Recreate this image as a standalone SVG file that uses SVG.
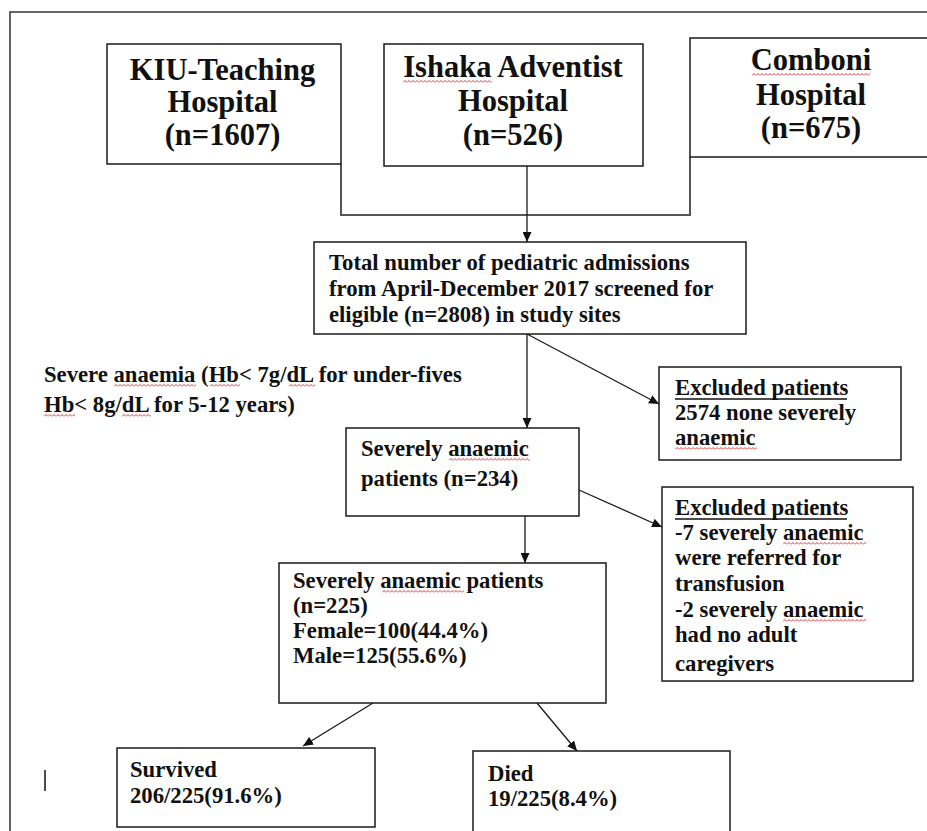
<svg xmlns="http://www.w3.org/2000/svg" width="927" height="831" viewBox="0 0 927 831">
<style>
.box{fill:#fff;stroke:#1a1a1a;stroke-width:1.5}
.t{font-family:"Liberation Serif","Times New Roman",serif;font-weight:bold;fill:#111;font-size:22.7px}
.h{font-size:30.5px;text-anchor:middle}
.c{fill:none;stroke:#1a1a1a;stroke-width:1.3}
.sq{fill:url(#sq)}
</style>
<defs>
<marker id="ah" markerUnits="userSpaceOnUse" markerWidth="11" markerHeight="9" refX="10" refY="4.5" orient="auto">
<path d="M0,0 L10,4.5 L0,9 z" fill="#111"/>
</marker>
<pattern id="sq" width="4" height="3" patternUnits="userSpaceOnUse">
<path d="M0,2.5 L2,0.5 L4,2.5" fill="none" stroke="#e02020" stroke-width="0.9"/>
</pattern>
<clipPath id="ex2clip"><rect x="662" y="487" width="251" height="189"/></clipPath>
</defs>
<rect width="927" height="831" fill="#fff"/>
<path d="M10,831 L10,12 L927,12" fill="none" stroke="#333" stroke-width="1.5"/>
<line x1="45" y1="770" x2="45" y2="791" stroke="#111" stroke-width="1.5"/>

<g id="connectors">
<polyline points="341,164 341,215 690,215 690,157" fill="none" stroke="#555" stroke-width="2"/>
<line class="c" x1="527" y1="166" x2="527" y2="242" marker-end="url(#ah)"/>
<line class="c" x1="527" y1="334" x2="527" y2="428" stroke-width="2.2" marker-end="url(#ah)"/>
<line class="c" x1="527" y1="334" x2="659" y2="404" marker-end="url(#ah)"/>
<line class="c" x1="579" y1="490" x2="662" y2="527" marker-end="url(#ah)"/>
<line class="c" x1="525" y1="516" x2="525" y2="563" marker-end="url(#ah)"/>
<line class="c" x1="373" y1="703" x2="303" y2="746" marker-end="url(#ah)"/>
<line class="c" x1="537" y1="703" x2="577" y2="751" marker-end="url(#ah)"/>
</g>

<g id="kiu">
<rect class="box" x="107" y="44" width="234" height="120"/>
<text class="t h" x="222.5" y="80">KIU-Teaching</text>
<text class="t h" x="222.5" y="112">Hospital</text>
<text class="t h" x="222.5" y="145">(n=1607)</text>
</g>

<g id="ishaka">
<rect class="box" x="384" y="44" width="259" height="122"/>
<text class="t h" x="513" y="77">Ishaka Adventist</text>
<text class="t h" x="513" y="111">Hospital</text>
<text class="t h" x="513" y="145">(n=526)</text>
<rect class="sq" transform="translate(403,80)" width="89" height="3"/>
</g>

<g id="comboni">
<rect class="box" x="690" y="38" width="250" height="119"/>
<text class="t h" x="811" y="70">Comboni</text>
<text class="t h" x="811" y="105">Hospital</text>
<text class="t h" x="811" y="138">(n=675)</text>
<rect class="sq" transform="translate(752,73)" width="118" height="3"/>
</g>

<g id="total">
<rect class="box" x="314" y="242" width="432" height="92"/>
<text class="t" x="329" y="270">Total number of pediatric admissions</text>
<text class="t" x="329" y="296">from April-December 2017 screened for</text>
<text class="t" x="329" y="322">eligible (n=2808) in study sites</text>
</g>

<g id="criteria">
<text class="t" x="44" y="382">Severe anaemia (Hb&lt; 7g/dL for under-fives</text>
<text class="t" x="44" y="412">Hb&lt; 8g/dL for 5-12 years)</text>
<rect class="sq" transform="translate(114,384)" width="82" height="3"/>
<rect class="sq" transform="translate(210,384)" width="30" height="3"/>
<rect class="sq" transform="translate(289,384)" width="26" height="3"/>
<rect class="sq" transform="translate(44,414)" width="31" height="3"/>
<rect class="sq" transform="translate(122,414)" width="29" height="3"/>
</g>

<g id="severe234">
<rect class="box" x="346" y="428" width="233" height="88"/>
<text class="t" x="361" y="456">Severely anaemic</text>
<text class="t" x="361" y="486">patients (n=234)</text>
<rect class="sq" transform="translate(449,458)" width="81" height="3"/>
</g>

<g id="excluded1">
<rect class="box" x="659" y="367" width="242" height="93"/>
<text class="t" x="675" y="395">Excluded patients</text>
<line x1="675" y1="399" x2="847" y2="399" stroke="#111" stroke-width="1.3"/>
<text class="t" x="675" y="420">2574 none severely</text>
<text class="t" x="675" y="445">anaemic</text>
<rect class="sq" transform="translate(675,447)" width="82" height="3"/>
</g>

<g id="excluded2">
<rect class="box" x="662" y="487" width="251" height="194"/>
<g clip-path="url(#ex2clip)">
<text class="t" x="675" y="515">Excluded patients</text>
<line x1="675" y1="519" x2="847" y2="519" stroke="#111" stroke-width="1.3"/>
<text class="t" x="675" y="540">-7 severely anaemic</text>
<text class="t" x="675" y="565">were referred for</text>
<text class="t" x="675" y="591">transfusion</text>
<text class="t" x="675" y="617">-2 severely anaemic</text>
<text class="t" x="675" y="642">had no adult</text>
<text class="t" x="675" y="671">caregivers</text>
</g>
<rect class="sq" transform="translate(783,542)" width="83" height="3"/>
<rect class="sq" transform="translate(783,619)" width="83" height="3"/>
</g>

<g id="severe225">
<rect class="box" x="279" y="563" width="327" height="140"/>
<text class="t" x="293" y="588">Severely anaemic patients</text>
<text class="t" x="293" y="613">(n=225)</text>
<text class="t" x="293" y="638">Female=100(44.4%)</text>
<text class="t" x="293" y="663">Male=125(55.6%)</text>
<rect class="sq" transform="translate(382,590)" width="82" height="3"/>
</g>

<g id="survived">
<rect class="box" x="117" y="748" width="258" height="79"/>
<text class="t" x="130" y="777">Survived</text>
<text class="t" x="130" y="803">206/225(91.6%)</text>
</g>

<g id="died">
<rect class="box" x="473" y="751" width="257" height="90"/>
<text class="t" x="488" y="781">Died</text>
<text class="t" x="488" y="806">19/225(8.4%)</text>
</g>
</svg>
